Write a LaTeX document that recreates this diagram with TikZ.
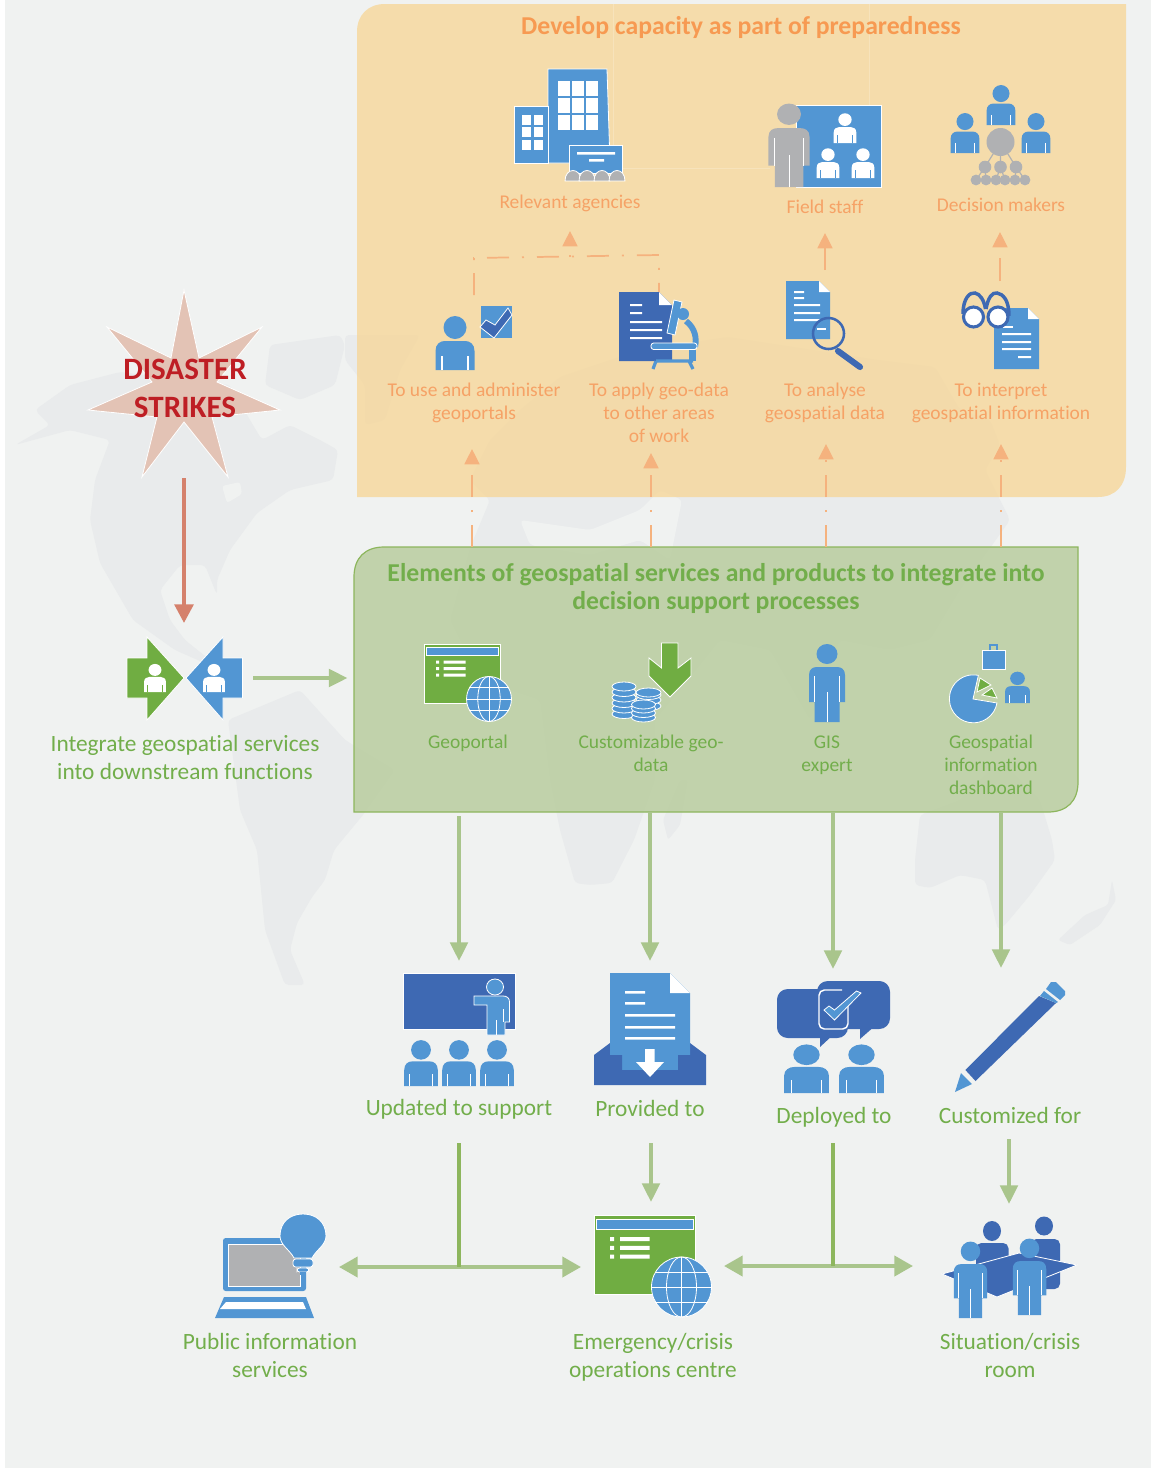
\documentclass[tikz,border=0pt]{standalone}
\usepackage{fontspec}
\setmainfont[Ligatures=CommonOff]{Carlito}
\usetikzlibrary{arrows.meta}
\definecolor{bgc}{HTML}{F0F2F1}
\definecolor{mapc}{HTML}{E9EBEC}
\definecolor{bl}{HTML}{5296D3}
\definecolor{dk}{HTML}{3E69B3}
\definecolor{grn}{HTML}{70AD42}
\definecolor{gry}{HTML}{B0B1B3}
\definecolor{otxt}{HTML}{F6A266}
\definecolor{otitle}{HTML}{F79A52}
\definecolor{gtxt}{HTML}{72AE4B}
\definecolor{oarr}{HTML}{F5B27E}
\definecolor{garr}{HTML}{A9C58C}
\definecolor{gdark}{HTML}{8DB65D}
\definecolor{rarr}{HTML}{D5816C}
\definecolor{redtxt}{HTML}{BE1E24}
\definecolor{starc}{HTML}{E3C3B5}
\definecolor{opan}{RGB}{247,213,148}
\definecolor{gpan}{RGB}{187,206,162}
\newcommand\fB{\fontsize{17.5}{21}\selectfont}
\newcommand\fS{\fontsize{14.6}{17.25}\selectfont}
\newcommand\fT{\fontsize{19.3}{21}\selectfont\bfseries}
\tikzset{
 lblO/.style={font=\fS,text=otxt,align=center,inner sep=0pt},
 lblGs/.style={font=\fS,text=gtxt,align=center,inner sep=0pt},
 lblG/.style={font=\fB,text=gtxt,align=center,inner sep=0pt},
 ttlO/.style={font=\fT,text=otitle,align=center,inner sep=0pt},
 ttlG/.style={font=\fT,text=gtxt,align=center,inner sep=0pt},
 ttlR/.style={font=\fontsize{23.3}{28.5}\selectfont\bfseries,text=redtxt,align=center,inner sep=0pt},
 ww/.style={draw=white,line width=.6pt},
 odash/.style={dash pattern=on 16.5pt off 9.75pt on 1.5pt off 9.75pt},
 oln/.style={draw=oarr,line width=1.3pt},
 oarw/.style={oln,-{Triangle[width=11.25pt,length=11.5pt,fill=oarr]}},
 garw/.style={draw=garr,line width=3pt,-{Triangle[width=13pt,length=14pt,fill=garr]}},
 gdbl/.style={draw=garr,line width=3pt,{Triangle[width=15pt,length=14pt,fill=garr]}-{Triangle[width=15pt,length=14pt,fill=garr]}},
 gstem/.style={draw=gdark,line width=2.6pt},
 rarw/.style={draw=rarr,line width=3pt,-{Triangle[width=14pt,length=14pt,fill=rarr]}},
}
\newcommand\Bust[6]{\begin{scope}[shift={(#1,#2)},xscale=#3,yscale=#4]
 \fill[#5] (0,-42.5) ellipse[x radius=11.5,y radius=11.5];
 \fill[#5] (-19.5,0) -- (-19.5,-19) .. controls (-19.5,-26) and (-15,-29) .. (-10,-29) -- (10,-29) .. controls (15,-29) and (19.5,-26) .. (19.5,-19) -- (19.5,0) -- cycle;
 \draw[#6,line width=.8pt] (-13,0) -- (-13,-14) (13,0) -- (13,-14);
 \end{scope}}
\newcommand\Full[6]{\begin{scope}[shift={(#1,#2)},xscale=#3,yscale=#4]
 \fill[#5] (0,-68) ellipse[x radius=10.5,y radius=10];
 \fill[#5] (-12.5,0) -- (-12.5,-20) -- (-18,-20) -- (-18,-47) .. controls (-18,-53) and (-14,-55) .. (-10,-55) -- (10,-55) .. controls (14,-55) and (18,-53) .. (18,-47) -- (18,-20) -- (12.5,-20) -- (12.5,0) -- cycle;
 \draw[#6,line width=.7pt] (0,0) -- (0,-30) (-12.5,-20) -- (-12.5,-46) (12.5,-20) -- (12.5,-46);
 \end{scope}}
\newcommand\Doc[6]{\fill[#6] (#1,#2) -- ({#3-#5},#2) -- (#3,{#2+#5}) -- (#3,#4) -- (#1,#4) -- cycle;
 \fill[white] ({#3-#5},#2) -- (#3,{#2+#5}) -- ({#3-#5},{#2+#5}) -- cycle;}
\newcommand\Globe[3]{\begin{scope}[shift={(#1,#2)}]
 \fill[bl,ww] (0,0) circle[radius=#3];
 \draw[white,line width=.6pt] (0,0) ellipse[x radius={.5*#3},y radius=#3];
 \draw[white,line width=.6pt] (0,-#3) -- (0,#3) (-#3,0) -- (#3,0);
 \draw[white,line width=.6pt] ({-.87*#3},{-.5*#3}) -- ({.87*#3},{-.5*#3}) ({-.87*#3},{.5*#3}) -- ({.87*#3},{.5*#3});
 \end{scope}}
\newcommand\WebWin[3]{\begin{scope}[shift={(#1,#2)},scale=#3]
 \fill[grn,ww] (0,0) rectangle (76,59);
 \fill[bl,ww] (2,3) rectangle (74,11);
 \fill[white] (12,16.5) rectangle (15,19.5) (12,23) rectangle (15,26) (12,29.5) rectangle (15,32.5);
 \fill[white] (19.5,16.5) rectangle (41.5,19.5) (19.5,23) rectangle (41.5,26) (19.5,29.5) rectangle (41.5,32.5);
 \end{scope}}
\newcommand\Cyl[3]{\foreach \yy in {#3}{\fill[bl,ww] (#1,\yy) ellipse[x radius=#2,y radius=4.5];}}
\begin{document}
\begin{tikzpicture}[x=.75pt,y=-.75pt]
\useasboundingbox (0,0) rectangle (1151,1468);
\fill[white] (0,0) rectangle (1151,1468);
\fill[bgc] (5,0) rectangle (1151,1468);
% ---- world map
\fill[mapc,rounded corners=3pt] (15,445) -- (50,425) -- (35,410) -- (70,385) -- (120,372) -- (170,378) -- (230,385) -- (250,420) -- (262,440) -- (290,425) -- (320,440) -- (338,450) -- (333,480) -- (290,490) -- (257,513) -- (230,550) -- (217,580) -- (217,595) -- (205,565) -- (180,565) -- (160,590) -- (170,620) -- (185,640) -- (225,672) -- (175,650) -- (133,620) -- (100,563) -- (90,520) -- (95,480) -- (110,440) -- (70,430) -- cycle;
\fill[bgc,rounded corners=2pt] (222,486) -- (240,482) -- (242,494) -- (227,503) -- cycle;
\fill[mapc,rounded corners=3pt] (270,345) -- (340,335) -- (345,345) -- (335,385) -- (300,400) -- (265,385) -- cycle;
\fill[mapc,rounded corners=3pt] (345,335) -- (420,335) -- (400,370) -- (385,420) -- (365,425) -- (365,385) -- (345,360) -- cycle;
\fill[mapc,rounded corners=3pt] (228,720) -- (300,690) -- (345,740) -- (395,770) -- (363,815) -- (334,850) -- (325,880) -- (312,897) -- (297,923) -- (290,950) -- (305,985) -- (285,985) -- (265,930) -- (257,850) -- (240,810) -- cycle;
\fill[mapc,rounded corners=3pt] (560,377) -- (640,350) -- (728,337) -- (878,360) -- (935,367) -- (960,410) -- (990,420) -- (1000,445) -- (985,470) -- (1010,520) -- (960,590) -- (930,640) -- (890,650) -- (840,640) -- (810,720) -- (770,650) -- (720,640) -- (680,690) -- (655,720) -- (655,780) -- (634,840) -- (612,883) -- (590,885) -- (575,883) -- (560,830) -- (550,780) -- (540,700) -- (480,680) -- (450,620) -- (470,548) -- (490,500) -- (470,480) -- (490,440) -- (520,410) -- cycle;
\fill[bgc,rounded corners=3pt] (520,520) -- (590,530) -- (640,510) -- (660,490) -- (682,500) -- (670,560) -- (640,540) -- (590,555) -- (530,545) -- cycle;
\fill[mapc,rounded corners=2pt] (688,780) -- (680,825) -- (668,840) -- (663,820) -- (680,780) -- cycle;
\fill[mapc,rounded corners=3pt] (915,860) -- (920,815) -- (960,800) -- (1000,760) -- (1040,800) -- (1052,840) -- (1055,860) -- (1030,895) -- (1005,925) -- (998,930) -- (985,880) -- (960,875) -- (930,888) -- (915,885) -- cycle;
\fill[mapc,rounded corners=2pt] (1112,880) -- (1116,900) -- (1100,925) -- (1070,945) -- (1058,940) -- (1085,915) -- (1108,905) -- cycle;
% ---- panels
\path[fill=opan,fill opacity=.75] (357,497) -- (357,32) .. controls (357,15) and (368,4) .. (385,4) -- (1126,4) -- (1126,467) .. controls (1126,486) and (1115,497) .. (1098,497) -- cycle;
\draw[white,opacity=.2,line width=.6pt] (613,4) -- (613,168) -- (770,168) (869,4) -- (869,105);
\path[fill=gpan,fill opacity=.88,draw=gdark,line width=.9pt] (354,812) -- (354,577) .. controls (354,558) and (365,547) .. (384,547) -- (1078,547) -- (1078,782) .. controls (1078,801) and (1067,812) .. (1048,812) -- cycle;
% ---- coordinates for the connectors
\coordinate (orgA) at (472,547); \coordinate (useB) at (472,449);
\coordinate (orgB) at (651,547); \coordinate (appB) at (651,453);
\coordinate (orgC) at (826,547); \coordinate (anaB) at (826,444);
\coordinate (orgD) at (1001,547); \coordinate (intB) at (1001,444);
\coordinate (useT) at (474,295); \coordinate (useC) at (474,258);
\coordinate (appT) at (659,292); \coordinate (appC) at (659,255);
\coordinate (relJ) at (570,257); \coordinate (relB) at (570,231);
\coordinate (anaT) at (825,270); \coordinate (fldB) at (825,233);
\coordinate (intT) at (1000,281); \coordinate (decB) at (1000,232);
\coordinate (starB) at (184,478); \coordinate (intgT) at (184,623);
\coordinate (intgR) at (253,678); \coordinate (elemL) at (347.5,678);
\coordinate (elemA) at (459,816); \coordinate (updT) at (459,961);
\coordinate (elemB) at (650,812); \coordinate (prvT) at (650,961);
\coordinate (elemC) at (833,812); \coordinate (depT) at (833,969);
\coordinate (elemD) at (1001,812); \coordinate (cusT) at (1001,968);
\coordinate (updB) at (459,1143); \coordinate (jL) at (459,1267);
\coordinate (pubR) at (339,1267); \coordinate (emgL) at (581,1267);
\coordinate (prvB) at (651,1143); \coordinate (emgT) at (651,1202);
\coordinate (depB) at (833,1143); \coordinate (jR) at (833,1266);
\coordinate (emgR) at (724,1266); \coordinate (sitL) at (913,1266);
\coordinate (cusB) at (1009,1139); \coordinate (sitT) at (1009,1204);
% ---- orange connectors
\draw[oarw,odash] (orgA) -- (useB);
\draw[oarw,odash] (orgB) -- (appB);
\draw[oarw,odash] (orgC) -- (anaB);
\draw[oarw,odash] (orgD) -- (intB);
\draw[oln,odash] (useT) -- (useC) -- (appC) -- (appT);
\draw[oarw,dash pattern=on 1.5pt off 20pt] (relJ) -- (relB);
\draw[oarw] (anaT) -- (fldB);
\draw[oarw,dash pattern=on 17.25pt off 20pt] (intT) -- (decB);
% ---- green and red connectors
\draw[rarw] (starB) -- (intgT);
\draw[garw] (intgR) -- (elemL);
\draw[garw] (elemA) -- (updT);
\draw[garw] (elemB) -- (prvT);
\draw[garw] (elemC) -- (depT);
\draw[garw] (elemD) -- (cusT);
\draw[garw] (prvB) -- (emgT);
\draw[garw] (cusB) -- (sitT);
\draw[gdbl] (pubR) -- (emgL);
\draw[gdbl] (emgR) -- (sitL);
\draw[gstem] (updB) -- (jL);
\draw[gstem] (depB) -- (jR);
% ---- star
\path[fill=starc,ww,draw=white] (184,290) -- (199,358) -- (262,327) -- (217,382) -- (280,410) -- (212,417) -- (228,477) -- (184,422) -- (142,477) -- (157,417) -- (88,410) -- (152,382) -- (107,327) -- (171,358) -- cycle;
\node[ttlR] (disaster) at (185,388) {DISASTER\\STRIKES};
% ---- integrate icon
\fill[grn,ww] (127,658) -- (147,658) -- (147,637) -- (184,678) -- (147,720) -- (147,698) -- (127,698) -- cycle;
\fill[bl,ww] (242.5,658) -- (223,658) -- (223,637) -- (186,678) -- (223,720) -- (223,698) -- (242.5,698) -- cycle;
\Bust{155}{692}{.56}{.52}{white}{grn}
\Bust{214}{692}{.56}{.52}{white}{bl}
\node[lblG] (integ) at (185,757) {Integrate geospatial services\\into downstream functions};
% ---- top panel
\node[ttlO] (dev) at (741,27) {Develop capacity as part of preparedness};
% buildings
\fill[bl,ww] (548,69) -- (607,69) -- (610,163) -- (548,163) -- cycle;
\fill[bl,ww] (514,106) rectangle (548,163);
\foreach \x in {558,572,586}{\foreach \y in {81,98,115}{\fill[white] (\x,\y) rectangle ({\x+11.5},{\y+14.5});}}
\foreach \x in {522,534}{\foreach \y in {115,127,140}{\fill[white] (\x,\y) rectangle ({\x+9},{\y+10});}}
\fill[bl,ww] (569,145) rectangle (622,173);
\fill[white] (577,152) rectangle (615,154.5) (589,159) rectangle (604,161.5);
\foreach \x in {573,587,602,617}{\fill[gry,ww] ({\x-8},181) .. controls ({\x-8},167) and ({\x+8},167) .. ({\x+8},181) -- cycle;}
\node[lblO] (rel) at (570,203) {Relevant agencies};
% field staff
\fill[bl,ww] (796,105) rectangle (881,187);
\Bust{845}{143}{.58}{.55}{white}{bl}
\Bust{828}{178}{.58}{.55}{white}{bl}
\Bust{863}{178}{.58}{.55}{white}{bl}
\Full{789}{187}{1.14}{1.07}{gry}{white}
\node[lblO] (fld) at (825,207) {Field staff};
% decision makers
\Bust{1001}{125}{.74}{.74}{bl}{white}
\Bust{965}{153}{.74}{.74}{bl}{white}
\Bust{1036}{153}{.74}{.74}{bl}{white}
\draw[gry,line width=.9pt] (1000.5,142) -- (985,167) (1000.5,142) -- (1016,167) (1000.5,142) -- (1000.5,167)
 (985,167) -- (976,180) (985,167) -- (986,180) (1000.5,167) -- (996,180) (1000.5,167) -- (1005,180) (1016,167) -- (1015,180) (1016,167) -- (1025,180);
\fill[gry] (1000.5,142) circle[radius=14];
\foreach \x in {985,1000.5,1016}{\fill[gry] (\x,167) circle[radius=6.3];}
\foreach \x in {976,986,996,1005,1015,1025}{\fill[gry] (\x,180) circle[radius=5.4];}
\node[lblO] (dec) at (1001,204.5) {Decision makers};
% person with check
\Bust{455}{370}{1}{1}{bl}{white}
\fill[bl] (481,306) rectangle (512,338);
\fill[dk,ww] (480,327) -- (486,320) -- (495,325) -- (508,308) -- (512,315) -- (494,338) -- cycle;
\node[lblO] (use) at (474,403) {To use and administer\\geoportals};
% doc + microscope
\Doc{619}{292}{672}{361}{13}{dk}
\fill[white] (630,304) rectangle (642,306) (630,312) rectangle (642,314);
\fill[white] (630,321) rectangle (662,323) (630,329) rectangle (662,331) (630,337) rectangle (662,339);
\fill[bl,ww] (674,300) -- (682,302) -- (675,335) -- (667,333) -- cycle;
\fill[bl] (683,314) circle[radius=6];
\draw[bl,line width=4.4pt] (686,321) .. controls (695,328) and (697,338) .. (695,347);
\fill[bl,ww,rounded corners=2pt] (651,343) rectangle (697,349.5);
\fill[bl] (689,350) rectangle (696,361);
\draw[bl,line width=2.4pt] (656,361) -- (693,361) (656,361) -- (653,369) (689,361) -- (693,369);
\node[lblO] (app) at (659,412.5) {To apply geo-data\\to other areas\\of work};
% doc + magnifier
\Doc{786}{281}{830}{339}{11}{bl}
\fill[white] (794,291) rectangle (804,293) (794,297) rectangle (804,299);
\fill[white] (794,304) rectangle (820,306) (794,312) rectangle (820,314) (794,319) rectangle (820,321);
\draw[dk,line width=4.6pt,line cap=round] (838,351) -- (860,367);
\draw[dk,line width=1.9pt] (828.5,333.5) circle[radius=15.5];
\fill[white] (817,328) rectangle (826,330);
\node[lblO] (ana) at (825,403) {To analyse\\geospatial data};
% doc + glasses
\Doc{994}{308}{1039}{369}{11}{bl}
\fill[white] (1003,326) rectangle (1013,328);
\fill[white] (1002,333) rectangle (1031,335) (1002,341) rectangle (1031,343) (1002,348) rectangle (1031,350) (1018,356) rectangle (1031,358);
\draw[dk,line width=2.6pt] (963,314) .. controls (963,298) and (970,292) .. (975,293) .. controls (980,294) and (984,300) .. (985.5,309);
\draw[dk,line width=2.6pt] (986,309) .. controls (988,298) and (992,292) .. (997,293) .. controls (1003,294) and (1009,300) .. (1009,316);
\fill[white,draw=dk,line width=2.3pt] (973.5,317) circle[radius=10];
\fill[white,draw=dk,line width=2.3pt] (998,317) circle[radius=10];
\node[lblO] (int) at (1001,403) {To interpret\\geospatial information};
% ---- green panel
\node[ttlG] (elem) at (716,588) {Elements of geospatial services and products to integrate into\\decision support processes};
\WebWin{424}{644}{1}
\Globe{489}{699}{22.5}
\node[lblGs] (geo) at (468,743.5) {Geoportal};
\Cyl{624}{12}{714,708.5,703,697.5,692,686.5}
\Cyl{648.5}{12.5}{706,700,695,692.5}
\fill[grn,ww] (661.5,643) -- (678,643) -- (678,668) -- (691,658) -- (691,676) -- (670,697) -- (649,676) -- (649,658) -- (661.5,668) -- cycle;
\Cyl{643.5}{12}{717.5,713,708.5,704.5}
\node[lblGs] (cust) at (651,753.5) {Customizable geo-\\data};
\Full{827}{722}{1}{1}{bl}{white}
\node[lblGs] (gis) at (827,755) {GIS\\expert};
\fill[bl,ww] (982,650) rectangle (1005,669);
\draw[bl,line width=1pt] (990,650) -- (990,645) -- (997,645) -- (997,650);
\fill[bl,ww] (973,699) -- (997,703) arc[start angle=10,end angle=282,radius=24] -- cycle;
\fill[grn,ww] (980,678) -- (991,685) -- (977,692) -- cycle;
\fill[grn,ww] (997,698) -- (982,695) -- (992,688) -- cycle;
\Bust{1017.5}{703}{.64}{.58}{bl}{white}
\node[lblGs] (dash) at (991,765) {Geospatial\\information\\dashboard};
% ---- row 3
\fill[dk,ww] (403,973) rectangle (515.5,1029);
\fill[bl,ww] (495,987) ellipse[x radius=8.5,y radius=8];
\fill[bl,ww] (474,996) -- (503,996) .. controls (507,996) and (509.5,998) .. (509.5,1002) -- (509.5,1022) -- (505,1022) -- (505,1035) -- (487,1035) -- (487,1005) -- (474,1005) -- cycle;
\draw[white,line width=.6pt] (496,1020) -- (496,1035) (503,1009) -- (503,1022);
\Bust{421}{1086}{.86}{.85}{bl}{white}
\Bust{459}{1086}{.86}{.85}{bl}{white}
\Bust{497}{1086}{.86}{.85}{bl}{white}
\node[lblG] (upd) at (459,1109.5) {Updated to support};
\fill[dk] (594,1055) -- (610,1043) -- (610,1055) -- cycle (706,1055) -- (690,1043) -- (690,1055) -- cycle;
\Doc{610}{973}{690}{1070}{20}{bl}
\fill[white] (625,991) rectangle (645,993.5) (625,1002) rectangle (645,1004.5);
\fill[white] (625,1014) rectangle (675,1016.5) (625,1026) rectangle (675,1028.5) (625,1037) rectangle (675,1039.5);
\fill[dk] (594,1055) -- (622,1055) -- (622,1070) -- (678,1070) -- (678,1055) -- (706,1055) -- (706,1085) -- (594,1085) -- cycle;
\fill[white] (645,1049) -- (654.5,1049) -- (654.5,1062) -- (664,1062) -- (650,1077) -- (636,1062) -- (645,1062) -- cycle;
\node[lblG] (prv) at (650,1108) {Provided to};
\fill[dk,rounded corners=8pt] (817,981) rectangle (890,1029);
\fill[dk] (860,1025) -- (860,1039) -- (876,1025) -- cycle;
\fill[dk,rounded corners=8pt] (777,989) rectangle (848,1038);
\fill[dk] (820,1034) -- (820,1047) -- (834,1034) -- cycle;
\draw[white,line width=1.1pt,rounded corners=4pt] (842,990) -- (819,990) -- (819,1029) -- (848,1029) -- (848,1005);
\fill[bl,ww] (824,1010) -- (829,1006) -- (834.5,1010) -- (856.5,991) -- (861,993) -- (834.5,1020) -- cycle;
\Bust{806.5}{1093}{1.15}{.9}{bl}{white}
\Bust{861.5}{1093}{1.15}{.9}{bl}{white}
\node[lblG] (dep) at (834,1117.5) {Deployed to};
\fill[dk] (965.4,1070) -- (975.5,1081) -- (1056,1003) -- (1039,996) -- cycle;
\fill[bl] (1040,996) -- (1044,991) -- (1058,1002) -- (1056,1003) -- cycle;
\fill[bl] (1046,989) -- (1051,982) -- (1056,982) -- (1065,991) -- (1065,995) -- (1060,1000) -- cycle;
\fill[bl] (955,1092) -- (961,1073) -- (972,1084) -- cycle;
\node[lblG] (cus) at (1010,1115.5) {Customized for};
% ---- row 4
\fill[bl,rounded corners=2pt] (223,1238) rectangle (306,1291);
\fill[gry,ww] (228,1244) rectangle (300,1286);
\fill[bl] (215,1318) -- (224,1297) -- (306,1297) -- (314,1318) -- cycle;
\fill[white] (220,1309) -- (226,1302) -- (303,1302) -- (306,1309) -- cycle;
\fill[bl,ww] (294,1258) .. controls (290,1250) and (280,1245) .. (280,1236) .. controls (280,1222) and (290,1214) .. (303,1214) .. controls (316,1214) and (326,1222) .. (326,1236) .. controls (326,1245) and (316,1250) .. (312,1258) -- cycle;
\fill[bl,ww,rounded corners=2pt] (293,1259) rectangle (313,1267);
\fill[bl,ww,rounded corners=2pt] (297,1268) rectangle (309,1272);
\fill[bl] (300,1272) rectangle (306,1275);
\node[lblG] (pub) at (270,1355.5) {Public information\\services};
\WebWin{594}{1215}{1.34}
\Globe{681.5}{1287}{30}
\node[lblG] (emg) at (653,1357) {Emergency/crisis\\operations centre};
\fill[dk] (992,1231) ellipse[x radius=9,y radius=10];
\fill[dk] (1044,1226) ellipse[x radius=9,y radius=9.5];
\fill[dk,rounded corners=4pt] (976,1243) rectangle (1008.5,1290);
\fill[dk,rounded corners=4pt] (1031,1239) rectangle (1060,1289);
\fill[dk,ww] (942,1274) -- (1019,1253) -- (1077,1265) -- (997,1297) -- cycle;
\Full{970.5}{1318}{.93}{.98}{bl}{white}
\Full{1029.5}{1315}{.93}{.98}{bl}{white}
\node[lblG] (sit) at (1010,1355.5) {Situation/crisis\\room};
\end{tikzpicture}
\end{document}
